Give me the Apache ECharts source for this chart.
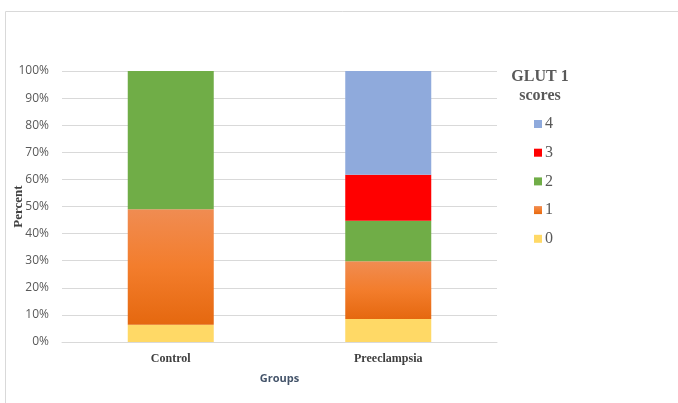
<!DOCTYPE html>
<html>
<head>
<meta charset="utf-8">
<script src="https://cdn.jsdelivr.net/npm/echarts@6/dist/echarts.min.js"></script>
<style>
  html, body { margin: 0; padding: 0; background: #fff; }
  #chart { width: 678px; height: 403px; }
</style>
</head>
<body>
<div id="chart"></div>
<script>
const groups = ['Control', 'Preeclampsia']
const scoreNames = ['0', '1', '2', '3', '4']
// percent of each group per GLUT 1 score
const score0 = [6.4, 8.5]
const score1 = [42.6, 21.3]
const score2 = [51.0, 14.9]
const score3 = [0, 17.0]
const score4 = [0, 38.3]
const yTicks = [0, 10, 20, 30, 40, 50, 60, 70, 80, 90, 100]

const chart = echarts.init(document.getElementById('chart'))

const orangeGrad = new echarts.graphic.LinearGradient(0, 0, 0, 1, [
  { offset: 0, color: '#F08C52' },
  { offset: 0.5, color: '#F37D2C' },
  { offset: 1, color: '#E5680F' }
])

const mkSeries = (name, data, color) => ({
  name: name,
  type: 'bar',
  stack: 'total',
  barWidth: 86,
  data: data,
  itemStyle: { color: color },
  emphasis: { disabled: true }
})

const option = {
  animation: false,
  graphic: [
    {
      type: 'rect',
      shape: { x: 5.5, y: 11.5, width: 680, height: 400 },
      style: { fill: 'none', stroke: '#D9D9D9', lineWidth: 1 },
      z: -10
    }
  ],
  title: {
    text: 'GLUT 1\nscores',
    left: 535,
    top: 62,
    textAlign: 'center',
    textStyle: {
      fontFamily: 'Liberation Serif',
      fontWeight: 'bold',
      fontSize: 16,
      color: '#595959',
      lineHeight: 19
    }
  },
  legend: {
    orient: 'vertical',
    left: 529,
    top: 111,
    itemWidth: 8,
    itemHeight: 8,
    itemGap: 12.7,
    data: ['4', '3', '2', '1', '0'],
    icon: 'rect',
    textStyle: {
      fontFamily: 'Liberation Serif',
      fontSize: 16,
      color: '#595959',
      padding: [0, 0, 0, -2]
    }
  },
  grid: {
    left: 62,
    right: 181,
    top: 71,
    bottom: 61,
    outerBoundsMode: 'none'
  },
  xAxis: {
    type: 'category',
    data: groups,
    name: 'Groups',
    nameLocation: 'middle',
    nameGap: 31,
    nameTextStyle: {
      fontFamily: 'Open Sans',
      fontWeight: 'bold',
      fontSize: 11,
      color: '#44546A'
    },
    axisLine: { lineStyle: { color: '#D9D9D9' } },
    axisTick: { show: false },
    axisLabel: {
      margin: 11,
      fontFamily: 'Liberation Serif',
      fontWeight: 'bold',
      fontSize: 12,
      color: '#404040'
    }
  },
  yAxis: {
    type: 'value',
    min: yTicks[0],
    max: yTicks[yTicks.length - 1],
    interval: 10,
    name: 'Percent',
    nameLocation: 'middle',
    nameRotate: 90,
    nameGap: 37,
    nameMoveOverlap: false,
    nameTextStyle: {
      fontFamily: 'Liberation Serif',
      fontWeight: 'bold',
      fontSize: 13,
      color: '#404040'
    },
    axisLine: { show: false },
    axisTick: { show: false },
    splitLine: { lineStyle: { color: '#D9D9D9' } },
    axisLabel: {
      margin: 13,
      fontFamily: 'Open Sans',
      fontSize: 12,
      color: '#595959',
      formatter: '{value}%'
    }
  },
  series: [
    mkSeries(scoreNames[0], score0, '#FFD966'),
    mkSeries(scoreNames[1], score1, orangeGrad),
    mkSeries(scoreNames[2], score2, '#70AD47'),
    mkSeries(scoreNames[3], score3, '#FF0000'),
    mkSeries(scoreNames[4], score4, '#8FAADC')
  ]
}

chart.setOption(option)
</script>
</body>
</html>
